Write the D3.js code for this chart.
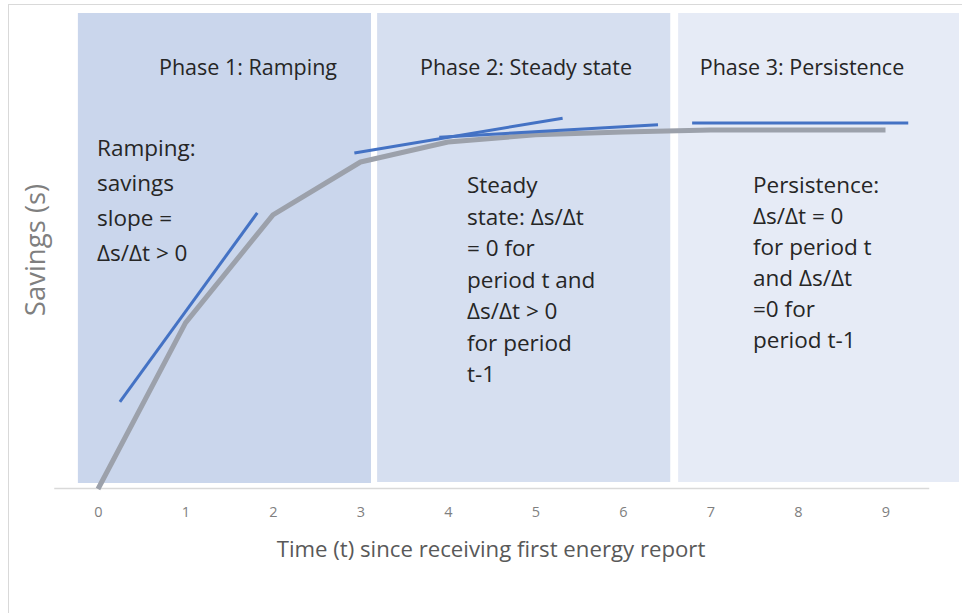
<!DOCTYPE html>
<html><head><meta charset="utf-8">
<script src="https://cdn.jsdelivr.net/npm/d3@7"></script>
<style>
html,body{margin:0;padding:0;background:#fff;}
svg{display:block;}
</style></head>
<body>
<svg id="chart" width="962" height="613"></svg>
<script>
// ---- data ----
const timeTicks = [0,1,2,3,4,5,6,7,8,9];
const savings = [0, 34.9, 57.6, 68.7, 72.9, 74.4, 75.0, 75.4, 75.4, 75.4];
// tangent segments (slope indicators)
const tangentStartT = [0.25, 2.93, 3.90, 6.79];
const tangentStartS = [18.3, 70.6, 73.9, 76.9];
const tangentEndT   = [1.82, 5.31, 6.40, 9.26];
const tangentEndS   = [58.0, 77.9, 76.5, 76.9];
// phases
const phaseTitles = ["Phase 1: Ramping", "Phase 2: Steady state", "Phase 3: Persistence"];
const phaseStartT = [-0.23, 3.19, 6.63];
const phaseEndT   = [3.12, 6.54, 9.84];
const phaseNotes = [
  ["Ramping:", "savings", "slope =", "\u0394s/\u0394t > 0"],
  ["Steady", "state: \u0394s/\u0394t", "= 0 for", "period t and", "\u0394s/\u0394t > 0", "for period", "t-1"],
  ["Persistence:", "\u0394s/\u0394t = 0", "for period t", "and \u0394s/\u0394t", "=0 for", "period t-1"]
];
const xTitle = "Time (t) since receiving first energy report";
const yTitle = "Savings (s)";

// ---- drawing ----
const svg = d3.select("#chart");
const x = d3.scaleLinear().domain([0, 9]).range([98, 885.5]);
const y = d3.scaleLinear().domain([0, 100]).range([489, 13]);
const font = "'Open Sans', 'Noto Sans', sans-serif";

// frame
svg.append("rect").attr("x", 8.5).attr("y", 4.5).attr("width", 970).attr("height", 640)
  .attr("fill", "none").attr("stroke", "#d9d9d9").attr("stroke-width", 1);

const phaseFills = ["#cad6ec", "#d6dff0", "#e6ebf6"];
const phaseTitleX = [248, 526, 802];
const noteX = [97, 467, 753];
const noteY = [148, 185, 185];
const noteStep = [35, 31.5, 31];

svg.selectAll("rect.phase").data(phaseTitles).join("rect").attr("class", "phase")
  .attr("x", (d, i) => x(phaseStartT[i]))
  .attr("width", (d, i) => x(phaseEndT[i]) - x(phaseStartT[i]))
  .attr("y", y(100))
  .attr("height", (d, i) => y(0) - y(100) - (i === 0 ? 6 : 7))
  .attr("fill", (d, i) => phaseFills[i]);

// x axis
svg.append("line").attr("x1", x(-0.5)).attr("x2", x(9.5)).attr("y1", 488.5).attr("y2", 488.5)
  .attr("stroke", "#d9d9d9").attr("stroke-width", 1.5);
const ax = svg.append("g").attr("transform", "translate(0,489)")
  .call(d3.axisBottom(x).tickValues(timeTicks).tickSize(0).tickPadding(18).tickFormat(d3.format("d")));
ax.select(".domain").remove();
ax.selectAll("text").attr("font-family", font).attr("font-size", 14.5).attr("fill", "#7f7f7f");

// savings curve
const line = d3.line().x((d, i) => x(timeTicks[i])).y(d => y(d));
svg.append("path").datum(savings).attr("d", line)
  .attr("fill", "none").attr("stroke", "#9ca1ab").attr("stroke-width", 5)
  .attr("stroke-linejoin", "round");

// tangent lines
svg.selectAll("line.tan").data(tangentStartT).join("line").attr("class", "tan")
  .attr("x1", (d, i) => x(tangentStartT[i])).attr("y1", (d, i) => y(tangentStartS[i]))
  .attr("x2", (d, i) => x(tangentEndT[i])).attr("y2", (d, i) => y(tangentEndS[i]))
  .attr("stroke", "#4472c4").attr("stroke-width", 3);

// phase titles
svg.selectAll("text.ptitle").data(phaseTitles).join("text").attr("class", "ptitle")
  .attr("x", (d, i) => phaseTitleX[i]).attr("y", 75)
  .attr("text-anchor", "middle").attr("font-family", font).attr("font-size", 21.5)
  .attr("fill", "#262626").text(d => d);

// notes
phaseNotes.forEach((lines, i) => {
  const t = svg.append("text").attr("font-family", font).attr("font-size", 22.5).attr("fill", "#262626");
  lines.forEach((s, j) => {
    t.append("tspan").attr("x", noteX[i]).attr("y", noteY[i] + 8 + j * noteStep[i]).text(s);
  });
});

// axis titles
svg.append("text").attr("x", 491).attr("y", 557).attr("text-anchor", "middle")
  .attr("font-family", font).attr("font-size", 22.2).attr("fill", "#595959").text(xTitle);
svg.append("text").attr("transform", "translate(45,250) rotate(-90)").attr("text-anchor", "middle")
  .attr("font-family", font).attr("font-size", 27.5).attr("fill", "#7f7f7f").text(yTitle);
</script>
</body></html>
